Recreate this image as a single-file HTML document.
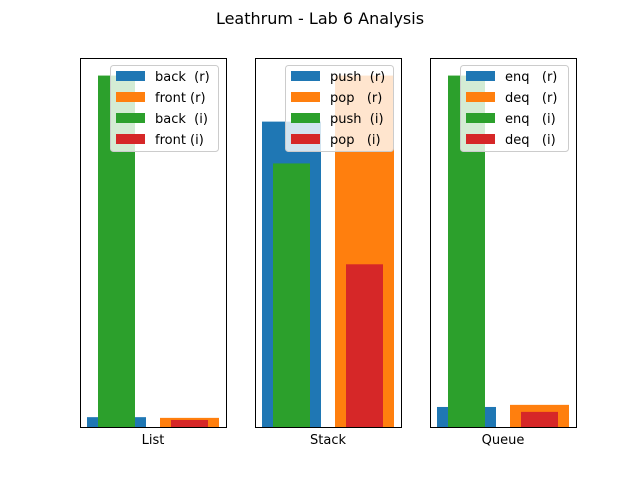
<!DOCTYPE html>
<html><head><meta charset="utf-8"><style>
body{margin:0;background:#fff}
svg text{font-family:"DejaVu Sans","Liberation Sans",sans-serif;fill:#000}
</style></head><body>
<svg id="c" width="640" height="480" xmlns="http://www.w3.org/2000/svg">
<text x="320" y="24" text-anchor="middle" font-size="16">Leathrum - Lab 6 Analysis</text>
</svg>
<script>
const panels = ["List", "Stack", "Queue"];
const labelsList = ["back  (r)", "front (r)", "back  (i)", "front (i)"];
const labelsStack = ["push  (r)", "pop   (r)", "push  (i)", "pop   (i)"];
const labelsQueue = ["enq   (r)", "deq   (r)", "enq   (i)", "deq   (i)"];
const valuesList = [2.8, 2.6, 100, 2.0];
const valuesStack = [86.9, 100, 75, 46.3];
const valuesQueue = [5.7, 6.3, 100, 4.3];
const colors = ["#1f77b4", "#ff7f0e", "#2ca02c", "#d62728"];

const svg = document.getElementById('c');
const NS = "http://www.w3.org/2000/svg";
function mk(t, a){const e=document.createElementNS(NS,t);for(const k in a)e.setAttribute(k,a[k]);svg.appendChild(e);return e;}
const allLabels=[labelsList,labelsStack,labelsQueue];
const allVals=[valuesList,valuesStack,valuesQueue];
const top0=58, bot=427, axW=146;
const lefts=[80,255,430];
panels.forEach((p,pi)=>{
  const L=lefts[pi], vals=allVals[pi];
  const vmax=Math.max(...vals)*1.05;
  const y=v=>bot-(v/vmax)*(bot-top0);
  // bar slots: [x offset, width]: wide real bars at group 0/1, narrow inner bars
  const geo=[[7,59],[80,59],[18,37],[91,37]];
  vals.forEach((v,i)=>{
    const r=mk('rect',{x:L+geo[i][0],y:y(v),width:geo[i][1],height:bot-y(v),fill:colors[i]});
    
    
  });
  const fr=mk('rect',{x:L+0.5,y:top0+0.5,width:axW,height:bot-top0,fill:'none',stroke:'#000','stroke-width':1});
  
  
  const xl=mk('text',{x:L+axW/2,y:444,'text-anchor':'middle','font-size':13});
  xl.textContent=p;
  
  
  // legend
  const lg=mk('rect',{x:L+30.5,y:65.5,width:108,height:86,rx:3,fill:'#fff','fill-opacity':0.8,stroke:'#ccc'});
  
  
  allLabels[pi].forEach((t,i)=>{
    const yy=76+i*21;
    const pr=mk('rect',{x:L+36,y:yy-5,width:29,height:10,fill:colors[i]});
    
    
    const tx=mk('text',{x:L+75,y:yy+5,'font-size':13});
    tx.setAttribute('xml:space','preserve');
    tx.style.whiteSpace='pre';
    tx.textContent=t;
    
    
  });
});
</script>
</body></html>
